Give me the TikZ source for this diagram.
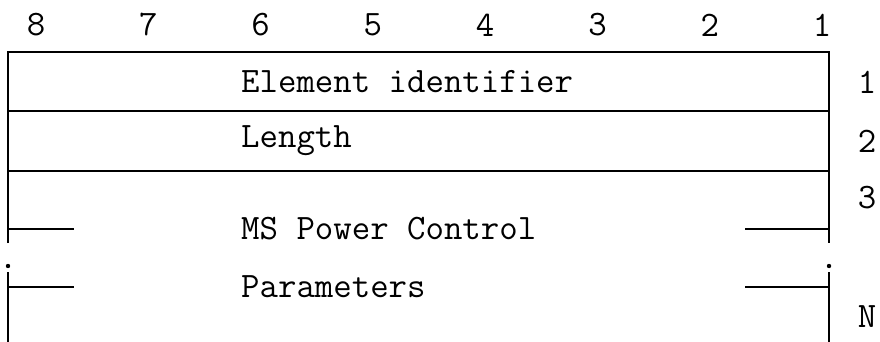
\documentclass[tikz,border=0pt]{standalone}
\usepackage{fontspec}
\usetikzlibrary{positioning}

\begin{document}
\begin{tikzpicture}[x=1pt, y=-1pt,
    frame/.style={line width=2.4pt, draw=black},
    label/.style={font=\fontsize{35.8}{40}\selectfont\ttfamily, inner sep=0pt},
    field/.style={label, anchor=west},
    bitnum/.style={label},
    octnum/.style={label}
  ]
    \useasboundingbox (0,0) rectangle (880,342);
    % bit numbers
    \foreach \b [count=\i from 0] in {8,7,6,5,4,3,2,1}
      \node[bitnum] (bit\b) at (36+112.3*\i,25) {\b};
    % frame
    \draw[frame] (8,243) -- (8,52) -- (829,52) -- (829,243);
    \draw[frame] (8,111) -- (829,111);
    \draw[frame] (8,171) -- (829,171);
    \draw[frame] (8,229) -- (74,229);
    \draw[frame] (745,229) -- (829,229);
    \draw[frame] (8,272) -- (8,343);
    \draw[frame] (829,272) -- (829,343);
    \draw[frame] (8,287) -- (74,287);
    \draw[frame] (745,287) -- (829,287);
    \fill (8,266) circle (2.2pt);
    \fill (829,266) circle (2.2pt);
    % fields
    \node[field] (elid) at (241,82) {Element identifier};
    \node[field] (len) at (241,141) {Length};
    \node[field] (msp) at (241,229) {MS Power Control};
    \node[field] (par) at (241,287) {Parameters};
    % octet numbers
    \node[octnum] (oct1) at (867,82) {1};
    \node[octnum] (oct2) at (867,141) {2};
    \node[octnum] (oct3) at (867,198) {3};
    \node[octnum] (octN) at (867,317) {N};
  \end{tikzpicture}
\end{document}
